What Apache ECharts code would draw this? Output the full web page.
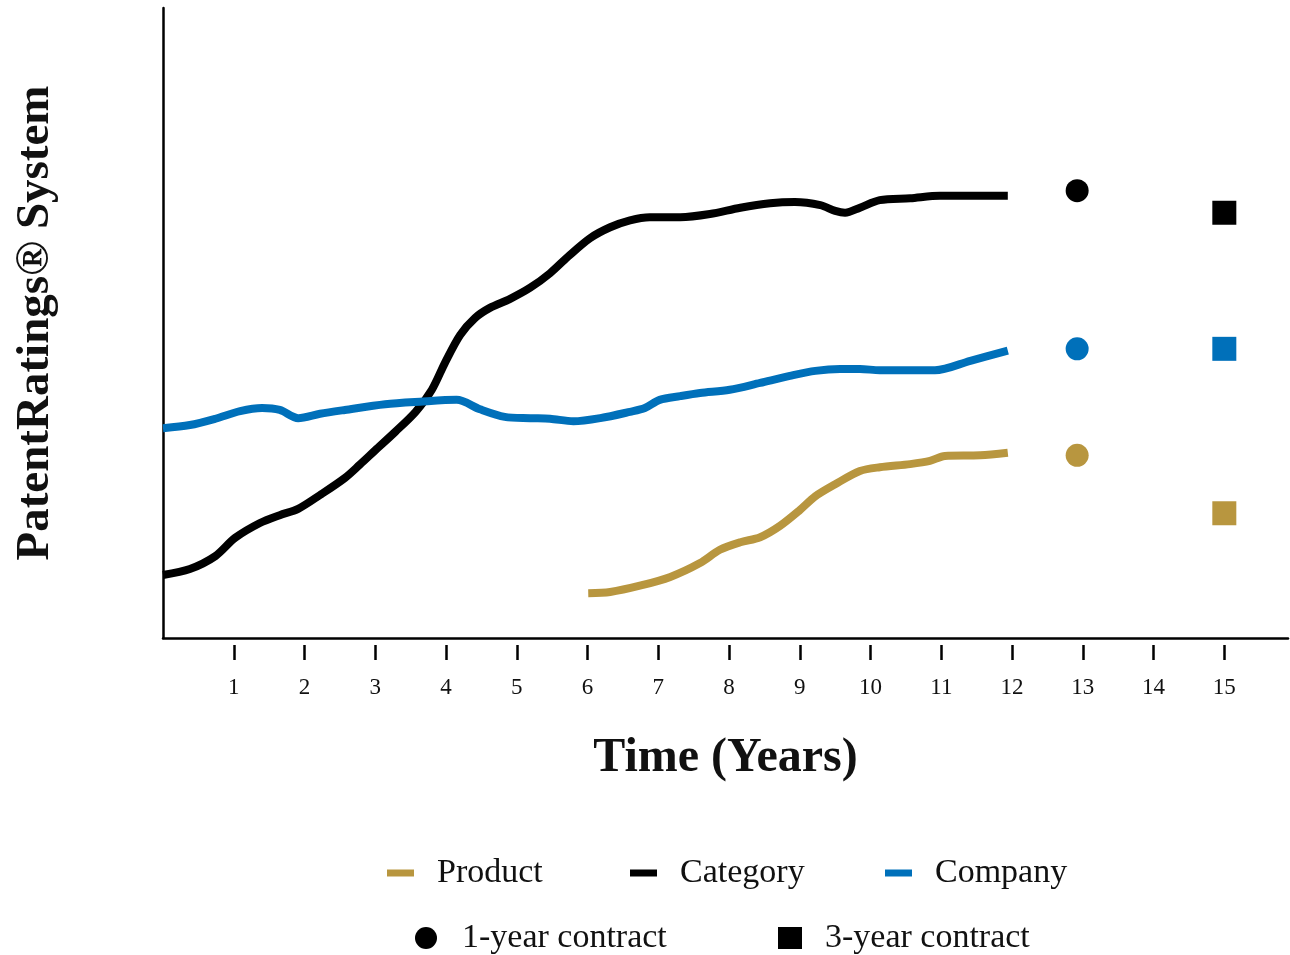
<!DOCTYPE html>
<html>
<head>
<meta charset="utf-8">
<script src="https://cdn.jsdelivr.net/npm/echarts@6/dist/echarts.min.js"></script>
<style>html,body{margin:0;padding:0;background:#fff}#c{width:1290px;height:955px}</style>
</head>
<body>
<div id="c"></div>
<script>
const xTicks = [1,2,3,4,5,6,7,8,9,10,11,12,13,14,15];
const categoryLine = [[0,10.0],[0.38,10.95],[0.74,13.0],[1.02,15.9],[1.37,18.25],[1.65,19.5],[1.91,20.5],[2.22,22.7],[2.57,25.4],[2.78,27.5],[3.0,29.8],[3.28,32.7],[3.57,35.9],[3.80,39.4],[3.99,43.8],[4.20,48.1],[4.41,50.8],[4.62,52.4],[4.90,53.8],[5.19,55.6],[5.47,57.9],[5.75,60.8],[6.04,63.5],[6.32,65.2],[6.60,66.3],[6.88,66.8],[7.31,66.8],[7.73,67.3],[8.16,68.3],[8.58,69.0],[8.93,69.2],[9.29,68.7],[9.50,67.8],[9.64,67.5],[9.85,68.3],[10.13,69.5],[10.56,69.8],[10.98,70.2],[11.94,70.2]];
const companyLine = [[0,33.3],[0.38,33.8],[0.74,34.8],[1.09,36.0],[1.40,36.5],[1.65,36.2],[1.91,34.9],[2.22,35.6],[2.57,36.2],[3.14,37.1],[3.63,37.5],[4.15,37.8],[4.48,36.3],[4.83,35.1],[5.19,34.9],[5.47,34.8],[5.80,34.4],[6.18,34.9],[6.60,35.9],[6.81,36.5],[7.02,37.8],[7.31,38.4],[7.59,38.9],[8.01,39.4],[8.44,40.5],[8.86,41.6],[9.22,42.4],[9.57,42.7],[9.85,42.7],[10.13,42.5],[10.91,42.5],[11.41,44.0],[11.94,45.6]];
const productLine = [[6.01,7.1],[6.32,7.3],[6.74,8.3],[7.17,9.7],[7.59,11.9],[7.87,14.0],[8.16,15.2],[8.44,16.0],[8.72,17.8],[9.00,20.3],[9.22,22.5],[9.50,24.4],[9.85,26.5],[10.13,27.1],[10.56,27.6],[10.84,28.1],[11.05,28.9],[11.55,29.0],[11.94,29.4]];
const oneYear = {x: 12.92, product: 29.0, category: 71.0, company: 45.9};
const threeYear = {x: 15.0, product: 19.8, category: 67.5, company: 45.9};

const GOLD = '#B8963F', BLUE = '#0070BA', BLACK = '#000000';
const FONT = 'Liberation Serif';

const chart = echarts.init(document.getElementById('c'));
const legendText = {fontFamily: FONT, fontSize: 34, color: '#111', padding: [0, 0, 0, 20]};
const lineLegendText = {fontFamily: FONT, fontSize: 34, color: '#111', padding: [0, 0, 0, 18]};
chart.setOption({
  animation: false,
  textStyle: {fontFamily: FONT},
  grid: {left: 163, right: 2, top: 8, bottom: 317, containLabel: false},
  xAxis: [{
    type: 'value', min: 0, max: 15.9, gridIndex: 0,
    axisLine: {show: true, lineStyle: {color: BLACK, width: 2.5}},
    axisTick: {show: false}, axisLabel: {show: false}, splitLine: {show: false},
    name: 'Time (Years)', nameLocation: 'middle', nameGap: 97,
    nameTextStyle: {fontFamily: FONT, fontSize: 48, fontWeight: 'bold', color: '#111'}
  }, {
    type: 'value', min: 0, max: 15.9, gridIndex: 0, position: 'bottom', offset: 7,
    axisLine: {show: false},
    axisTick: {show: true, length: 15, customValues: xTicks, lineStyle: {color: BLACK, width: 2.5}},
    axisLabel: {show: true, customValues: xTicks, margin: 31, fontFamily: FONT, fontSize: 23, color: '#111'},
    splitLine: {show: false}
  }],
  yAxis: {
    type: 'value', min: 0, max: 100,
    axisLine: {show: true, lineStyle: {color: BLACK, width: 2.5}},
    axisTick: {show: false}, axisLabel: {show: false}, splitLine: {show: false},
    name: 'PatentRatings® System', nameLocation: 'middle', nameGap: 104, nameRotate: 90,
    nameTextStyle: {fontFamily: FONT, fontSize: 47, fontWeight: 'bold', color: '#111'}
  },
  legend: [
    {data: ['Product'], left: 387, top: 856, padding: 0, icon: 'rect', itemWidth: 27, itemHeight: 7, itemGap: 0, textStyle: lineLegendText},
    {data: ['Category'], left: 630, top: 856, padding: 0, icon: 'rect', itemWidth: 27, itemHeight: 7, itemGap: 0, textStyle: lineLegendText},
    {data: ['Company'], left: 885, top: 856, padding: 0, icon: 'rect', itemWidth: 27, itemHeight: 7, itemGap: 0, textStyle: lineLegendText},
    {data: ['1-year contract'], left: 415, top: 921, padding: 0, icon: 'circle', itemWidth: 22, itemHeight: 22, itemGap: 0, textStyle: legendText},
    {data: ['3-year contract'], left: 778, top: 921, padding: 0, icon: 'rect', itemWidth: 24, itemHeight: 22, itemGap: 0, textStyle: lineLegendText}
  ],
  series: [
    {name: 'Product', type: 'line', data: productLine, smooth: 0.3, showSymbol: false, color: GOLD, lineStyle: {color: GOLD, width: 8}},
    {name: 'Category', type: 'line', data: categoryLine, smooth: 0.3, showSymbol: false, color: BLACK, lineStyle: {color: BLACK, width: 8}},
    {name: 'Company', type: 'line', data: companyLine, smooth: 0.3, showSymbol: false, color: BLUE, lineStyle: {color: BLUE, width: 8}},
    {name: '1-year contract', type: 'scatter', symbol: 'circle', symbolSize: 23, color: BLACK, itemStyle: {opacity: 1},
     data: [
       {value: [oneYear.x, oneYear.category], itemStyle: {color: BLACK, opacity: 1}},
       {value: [oneYear.x, oneYear.company], itemStyle: {color: BLUE, opacity: 1}},
       {value: [oneYear.x, oneYear.product], itemStyle: {color: GOLD, opacity: 1}}
     ]},
    {name: '3-year contract', type: 'scatter', symbol: 'rect', symbolSize: 24, color: BLACK, itemStyle: {opacity: 1},
     data: [
       {value: [threeYear.x, threeYear.category], itemStyle: {color: BLACK, opacity: 1}},
       {value: [threeYear.x, threeYear.company], itemStyle: {color: BLUE, opacity: 1}},
       {value: [threeYear.x, threeYear.product], itemStyle: {color: GOLD, opacity: 1}}
     ]}
  ]
});
</script>
</body>
</html>
